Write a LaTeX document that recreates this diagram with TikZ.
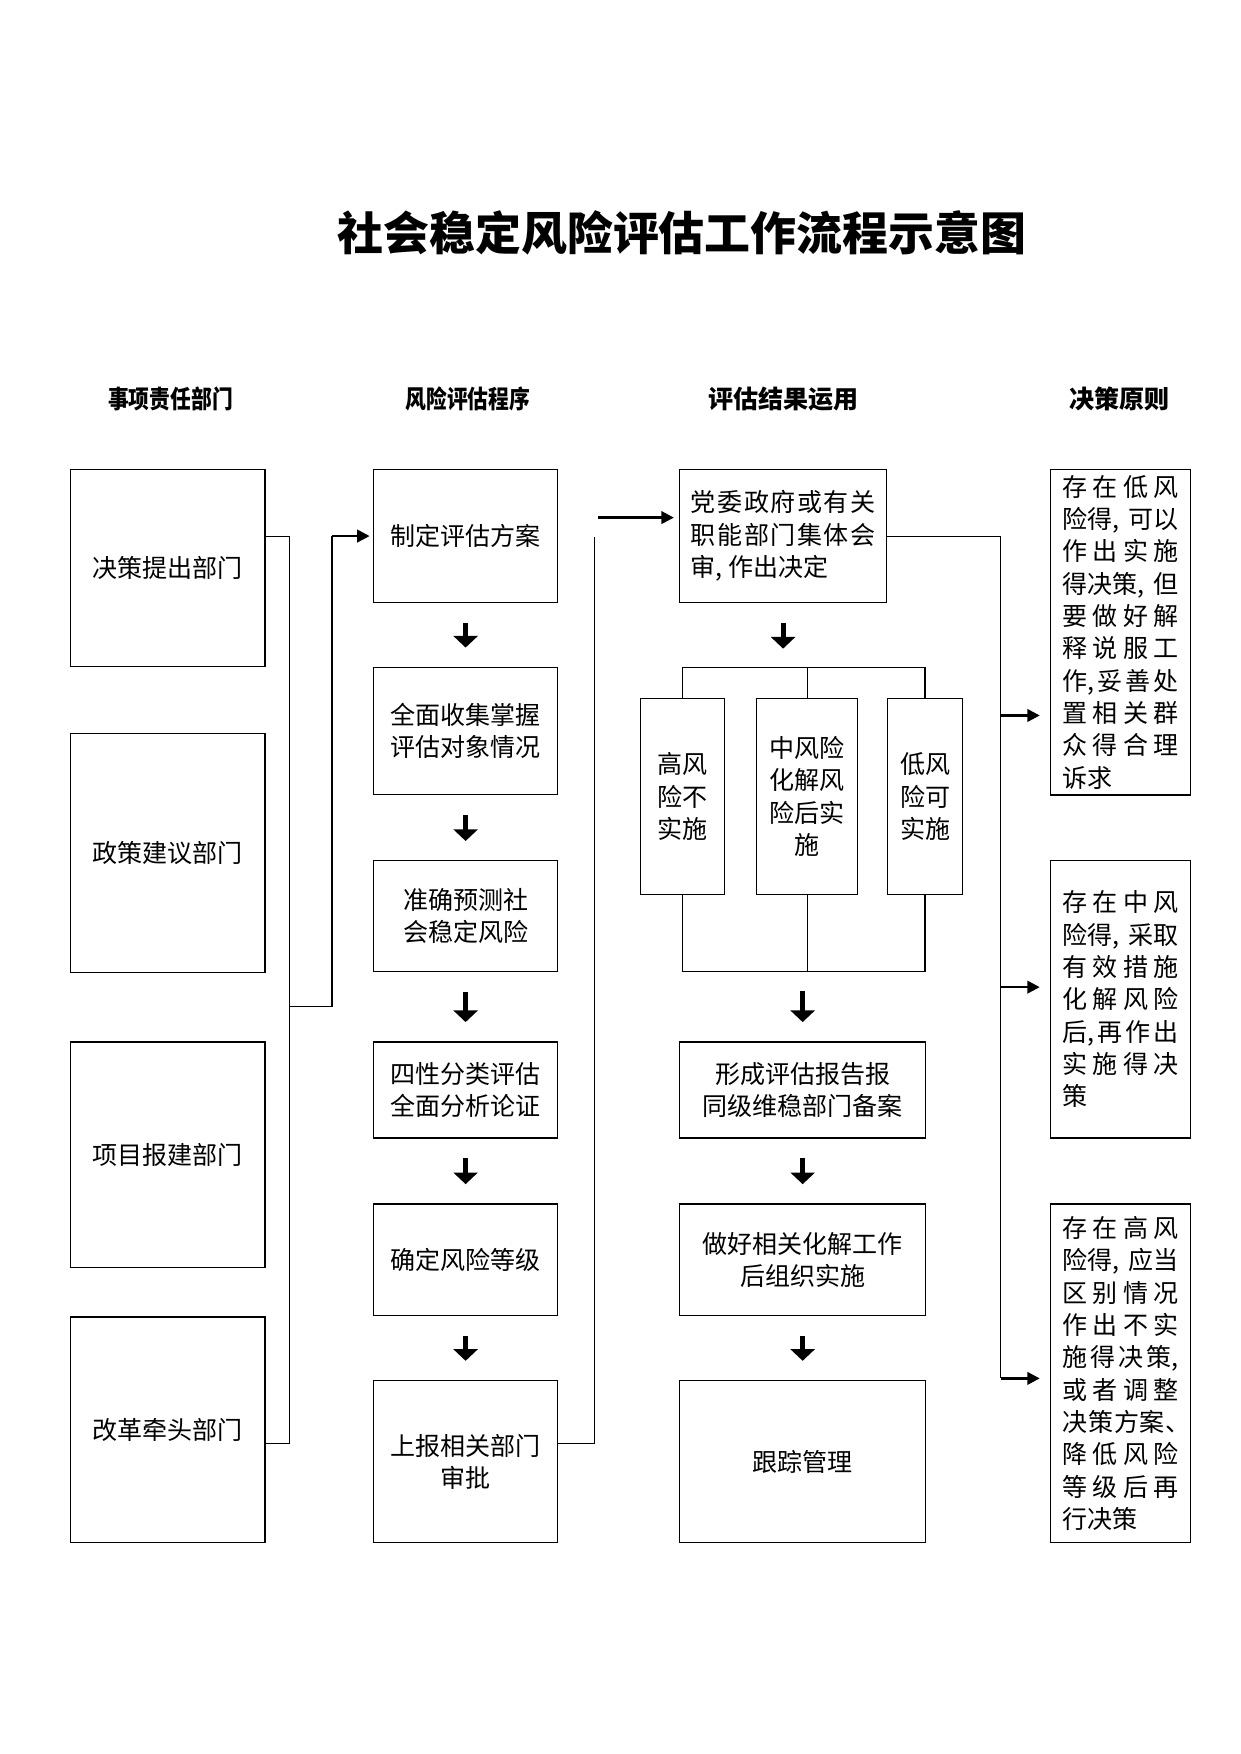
\documentclass[tikz,border=0pt]{standalone}
\usepackage{fontspec}
\setmainfont{Noto Sans CJK SC}
\usetikzlibrary{arrows.meta}
\newcommand{\pl}[1]{\makebox[55.7pt]{#1}}
\newcommand{\rl}[1]{\makebox[88.4pt]{#1}}
\begin{document}
\begin{tikzpicture}[x=0.536pt,y=-0.536pt,
  box/.style={draw,line width=0.6pt,inner sep=0pt,align=center,font=\fontsize{12}{15.5}\selectfont},
  lbox/.style={box,align=left},
  bigarrow/.style={line width=2.4pt,-{Triangle[width=11.5pt,length=5.6pt]},shorten <=9.4pt,shorten >=9.2pt},
  thinarrow/.style={line width=1.2pt,-{Triangle[width=6pt,length=6pt]}},
  conn/.style={line width=0.6pt},
  hdr/.style={font=\fontsize{12}{14}\selectfont\bfseries}
]
\path[use as bounding box] (0,0) rectangle (1110,1569);

% title and headers
\node[font=\fontsize{22}{26}\selectfont\bfseries] (title) at (610,208) {社会稳定风险评估工作流程示意图};
\node[hdr] (h1) at (152.5,357) {\scalebox{0.83}[1]{事项责任部门}};
\node[hdr] (h2) at (418.5,357) {\scalebox{0.83}[1]{风险评估程序}};
\node[hdr] (h3) at (701,357) {评估结果运用};
\node[hdr] (h4) at (1001.5,357) {决策原则};

% column 1
\node[box,minimum width=93.26pt,minimum height=94.34pt] (b1) at (150,508) {决策提出部门};
\node[box,minimum width=93.26pt,minimum height=114.7pt] (b2) at (150,763) {政策建议部门};
\node[box,minimum width=93.26pt,minimum height=108.27pt] (b3) at (150,1033) {项目报建部门};
\node[box,minimum width=93.26pt,minimum height=108.27pt] (b4) at (150,1279) {改革牵头部门};

% column 2
\node[box,minimum width=88.44pt,minimum height=63.78pt] (s1) at (416.5,479.5) {制定评估方案};
\node[box,minimum width=88.44pt,minimum height=61.1pt] (s2) at (416.5,654) {全面收集掌握\\评估对象情况};
\node[box,minimum width=88.44pt,minimum height=53.06pt] (s3) at (416.5,819.5) {准确预测社\\会稳定风险};
\node[box,minimum width=88.44pt,minimum height=46.1pt] (s4) at (416.5,975) {四性分类评估\\全面分析论证};
\node[box,minimum width=88.44pt,minimum height=53.6pt] (s5) at (416.5,1127) {确定风险等级};
\node[box,minimum width=88.44pt,minimum height=77.72pt] (s6) at (416.5,1307.5) {上报相关部门\\审批};

% column 3
\node[lbox,minimum width=99.16pt,minimum height=63.78pt] (r1) at (700.5,479.5)
  {\rl{党\hfill 委\hfill 政\hfill 府\hfill 或\hfill 有\hfill 关}\\
   \rl{职\hfill 能\hfill 部\hfill 门\hfill 集\hfill 体\hfill 会}\\
   审, 作出决定};
\node[box,minimum width=40.2pt,minimum height=93.8pt] (hr) at (610.5,712.5) {高风\\险不\\实施};
\node[box,minimum width=48.24pt,minimum height=93.8pt] (mr) at (722,712.5) {中风险\\化解风\\险后实\\施};
\node[box,minimum width=35.9pt,minimum height=93.8pt] (lr) at (827.5,712.5) {低风\\险可\\实施};
\node[box,minimum width=117.92pt,minimum height=46.1pt] (r2) at (718,975) {形成评估报告报\\同级维稳部门备案};
\node[box,minimum width=117.92pt,minimum height=53.6pt] (r3) at (718,1127) {做好相关化解工作\\后组织实施};
\node[box,minimum width=117.92pt,minimum height=77.72pt] (r4) at (718,1307.5) {跟踪管理};

% column 4
\node[lbox,minimum width=67pt,minimum height=156pt] (p1) at (1002.5,565.5)
  {\pl{存\hfill 在\hfill 低\hfill 风}\\
   \pl{险得,\hfill 可以}\\
   \pl{作\hfill 出\hfill 实\hfill 施}\\
   \pl{得决策,\hfill 但}\\
   \pl{要\hfill 做\hfill 好\hfill 解}\\
   \pl{释\hfill 说\hfill 服\hfill 工}\\
   \pl{作,\hfill 妥\hfill 善\hfill 处}\\
   \pl{置\hfill 相\hfill 关\hfill 群}\\
   \pl{众\hfill 得\hfill 合\hfill 理}\\
   诉求};
\node[lbox,minimum width=67pt,minimum height=132.9pt] (p2) at (1002.5,894)
  {\pl{存\hfill 在\hfill 中\hfill 风}\\
   \pl{险得,\hfill 采取}\\
   \pl{有\hfill 效\hfill 措\hfill 施}\\
   \pl{化\hfill 解\hfill 风\hfill 险}\\
   \pl{后,\hfill 再\hfill 作\hfill 出}\\
   \pl{实\hfill 施\hfill 得\hfill 决}\\
   策};
\node[lbox,minimum width=67pt,minimum height=162.4pt] (p3) at (1002.5,1228.5)
  {\pl{存\hfill 在\hfill 高\hfill 风}\\
   \pl{险得,\hfill 应当}\\
   \pl{区\hfill 别\hfill 情\hfill 况}\\
   \pl{作\hfill 出\hfill 不\hfill 实}\\
   \pl{施\hfill 得\hfill 决\hfill 策,}\\
   \pl{或\hfill 者\hfill 调\hfill 整}\\
   \pl{决\hfill 策\hfill 方\hfill 案、\kern-0.45em}\\
   \pl{降\hfill 低\hfill 风\hfill 险}\\
   \pl{等\hfill 级\hfill 后\hfill 再}\\
   行决策};

% column 1 -> column 2
\coordinate (j1) at (259,480);
\coordinate (j4) at (259,1291);
\coordinate (jm) at (259,900);
\coordinate (jn) at (297,900);
\draw[conn] (b1.east |- j1) -- (j1) -- (j4) -- (b4.east |- j4);
\draw[conn] (jm) -- (jn) -- (jn |- s1.west);
\draw[thinarrow,shorten >=1.5pt] (jn |- s1.west) -- (s1.west);

% column 2 arrows
\draw[bigarrow] (s1.south) -- (s2.north);
\draw[bigarrow] (s2.south) -- (s3.north);
\draw[bigarrow] (s3.south) -- (s4.north);
\draw[bigarrow] (s4.south) -- (s5.north);
\draw[bigarrow] (s5.south) -- (s6.north);

% column 2 -> column 3
\coordinate (k1) at (532,1291);
\coordinate (k2) at (532,480);
\coordinate (k3) at (535,463);
\draw[conn] (s6.east |- k1) -- (k1) -- (k2);
\draw[thinarrow,shorten >=2.5pt] (k3) -- (r1.west |- k3);

% column 3 tree
\coordinate (tl) at (610,597);
\coordinate (bl) at (610,869);
\draw[bigarrow,shorten >=9pt] (r1.south) -- (r1.south |- tl);
\draw[conn] (hr.north) -- (hr.north |- tl) -- (lr.north |- tl) -- (lr.north);
\draw[conn] (mr.north |- tl) -- (mr.north);
\draw[conn] (hr.south) -- (hr.south |- bl) -- (lr.south |- bl) -- (lr.south);
\draw[conn] (mr.south) -- (mr.south |- bl);
\draw[bigarrow] (r2.north |- bl) -- (r2.north);
\draw[bigarrow] (r2.south) -- (r3.north);
\draw[bigarrow] (r3.south) -- (r4.north);

% column 3 -> column 4
\coordinate (q0) at (895,480);
\coordinate (q1) at (895,640);
\coordinate (q2) at (895,883);
\coordinate (q3) at (895,1233);
\draw[conn] (r1.east |- q0) -- (q0) -- (q3);
\draw[thinarrow,shorten >=5pt] (q1) -- (p1.west |- q1);
\draw[thinarrow,shorten >=5pt] (q2) -- (p2.west |- q2);
\draw[thinarrow,shorten >=5pt] (q3) -- (p3.west |- q3);
\end{tikzpicture}
\end{document}
